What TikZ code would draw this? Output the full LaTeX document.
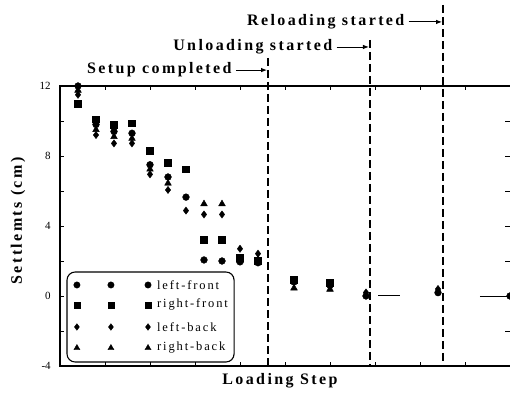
\documentclass[tikz,border=0pt]{standalone}
\usepackage{fontspec}
\setmainfont{Liberation Serif}
\newfontfamily\spacedfont[LetterSpace=15]{Liberation Serif}
\usetikzlibrary{plotmarks,arrows.meta}

\tikzset{
  eventlabel/.style={font={\spacedfont\bfseries\fontsize{16}{18}\selectfont},anchor=east,inner sep=1pt},
  axislabel/.style={font={\spacedfont\bfseries\fontsize{16}{18}\selectfont},inner sep=1pt},
  ticklabel/.style={font={\fontsize{11}{13}\selectfont},anchor=east,inner sep=1pt},
  legendtext/.style={font={\spacedfont\fontsize{12.5}{14}\selectfont},anchor=west,inner sep=1pt},
  eventline/.style={dash pattern=on 8pt off 4pt,line width=2.2pt},
  eventarrow/.style={-{Latex[length=6pt,width=4.5pt]},line width=0.9pt,shorten >=1pt}
}

\begin{document}
\begin{tikzpicture}[x=18pt,y=17.5pt]
        \useasboundingbox (-3.333,-5.486) rectangle (25,16.914);

        % axes frame and ticks
        \draw[line width=1.3pt] (25,12) -- (0,12) -- (0,-4) -- (25,-4);
        \foreach \t in {2.5,5,...,22.5} {
            \draw[line width=0.9pt] (\t,-4) -- ++(0,4pt);
            \draw[line width=0.9pt] (\t,12) -- ++(0,-4pt);
        }
        \foreach \v in {-2,0,...,10} {
            \draw[line width=0.9pt] (0,\v) -- ++(4pt,0);
            \draw[line width=0.9pt] (25,\v) -- ++(-5pt,0);
        }
        \foreach \v in {-4,0,...,12}
            \node[ticklabel] (tick\v) at (-0.45,\v) {\v};
        \node[axislabel,rotate=90] (ylabel) at (-2.33,4.29) {Settlemts (cm)};
        \node[axislabel] (xlabel) at (12.22,-4.85) {Loading Step};

        % event lines
        \coordinate (setuptop) at (11.56,13.6);
        \coordinate (setupbot) at (11.56,-4);
        \coordinate (unloadtop) at (17.22,14.63);
        \coordinate (unloadbot) at (17.22,-4);
        \coordinate (reloadtop) at (21.28,16.63);
        \coordinate (reloadbot) at (21.28,-4);
        \draw[eventline] (setuptop) -- (setupbot);
        \draw[eventline] (unloadtop) -- (unloadbot);
        \draw[eventline] (reloadtop) -- (reloadbot);

        \node[eventlabel] (setuplbl) at (9.6,12.91) {Setup completed};
        \node[eventlabel] (unloadlbl) at (15.2,14.23) {Unloading started};
        \node[eventlabel] (reloadlbl) at (19.2,15.66) {Reloading started};
        \draw[eventarrow] ([xshift=3pt]setuplbl.east) -- (setuplbl.east -| setuptop);
        \draw[eventarrow] ([xshift=3pt]unloadlbl.east) -- (unloadlbl.east -| unloadtop);
        \draw[eventarrow] ([xshift=3pt]reloadlbl.east) -- (reloadlbl.east -| reloadtop);

        % measured settlements
        \draw plot[only marks,mark=*,mark size=3.4pt] coordinates {
            (1,12.0) (2,9.8) (3,9.4) (4,9.3) (5,7.5) (6,6.8) (7,5.65) (8,2.06) (9,2.0)
            (10,1.95) (11,1.9) (13,0.8) (15,0.6) (17,0) (21,0.19) (25,0)};
        \draw plot[only marks,mark=square*,mark size=3.4pt] coordinates {
            (1,10.97) (2,10.1) (3,9.77) (4,9.87) (5,8.29) (6,7.62) (7,7.24) (8,3.2) (9,3.2)
            (10,2.2) (11,2.0) (13,0.91) (15,0.74)};
        \draw plot[only marks,mark=diamond*,mark size=3.6pt] coordinates {
            (1,11.5) (2,9.2) (3,8.72) (4,8.72) (5,6.95) (6,6.06) (7,4.88) (8,4.66) (9,4.66)
            (10,2.7) (11,2.42) (17,0.2) (21,0.4)};
        \draw plot[only marks,mark=triangle*,mark size=3.9pt] coordinates {
            (1,11.75) (2,9.5) (3,9.1) (4,9.0) (5,7.24) (6,6.44) (8,5.26) (9,5.26)
            (10,2.0) (11,2.1) (13,0.45) (15,0.38)};
        \draw[line width=0.5pt] (17.67,0.06) -- (18.89,0.06);
        \draw[line width=0.7pt] (23.33,0) -- (24.72,0);

        % legend
        \draw[line width=1.1pt,rounded corners=8pt] (0.39,1.37) rectangle (9.67,-3.77);
        \foreach \y/\m/\s/\txt [count=\i] in {0.63/*/3.2pt/left-front,-0.51/square*/3.2pt/right-front,-1.77/diamond*/3.3pt/left-back,-2.97/triangle*/3.5pt/right-back} {
            \draw plot[only marks,mark=\m,mark size=\s] coordinates {(0.94,\y) (2.83,\y) (4.89,\y)};
            \node[legendtext] (leg\i) at (5.33,\y) {\txt};
        }
\end{tikzpicture}
\end{document}
